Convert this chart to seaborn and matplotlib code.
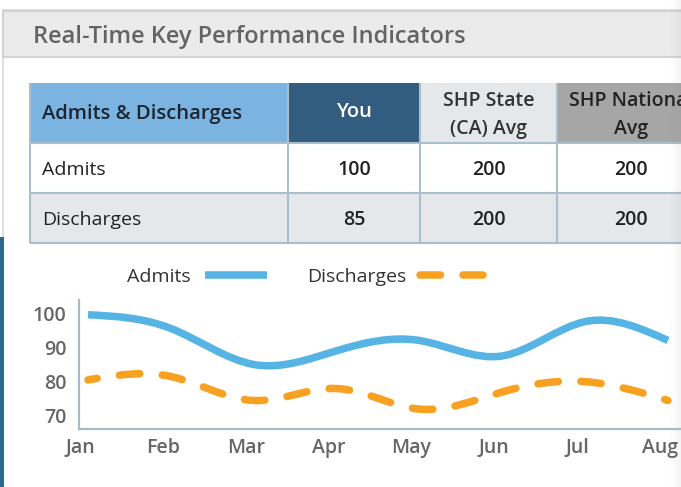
import numpy as np
import pandas as pd
import matplotlib
matplotlib.use("Agg")
import matplotlib.pyplot as plt
from matplotlib.patches import Rectangle, PathPatch
from matplotlib.path import Path
from matplotlib.lines import Line2D
from matplotlib.transforms import ScaledTranslation
import seaborn as sns

# ---- content -------------------------------------------------------------
title = "Real-Time Key Performance Indicators"
table_header = ["Admits & Discharges", "You", "SHP State\n(CA) Avg", "SHP National\nAvg"]
table_rows = ["Admits", "Discharges"]
you_values = [100, 85]
state_avg = [200, 200]
national_avg = [200, 200]

months = ["Jan", "Feb", "Mar", "Apr", "May", "Jun", "Jul", "Aug"]
admits = [99.5, 95.5, 85, 89, 92, 87.5, 97.5, 92]
discharges = [80.5, 81.5, 74.5, 78, 72, 77, 80, 74.5]
y_ticks = [70, 80, 90, 100]

# ---- style ---------------------------------------------------------------
sns.set_theme(style="white")
plt.rcParams["font.family"] = ["Open Sans", "DejaVu Sans"]

BLUE = "#55b4e4"
ORANGE = "#f8a020"
AXIS = "#a6bdc9"
GRID = "#a9bfcc"
TICK_TXT = "#666666"
DARK = "#222222"

W, H = 681, 487
fig = plt.figure(figsize=(W / 100, H / 100), dpi=100)
fig.patch.set_facecolor("white")

# background canvas in pixel units (card, title bar, table)
bg = fig.add_axes([0, 0, 1, 1])
bg.set_xlim(0, W)
bg.set_ylim(H, 0)
bg.axis("off")

# card frame and side strip
bg.add_patch(Rectangle((3, 10), W, H, facecolor="white", edgecolor="#d9d9d9", lw=1.2, zorder=1))
bg.add_patch(Rectangle((0, 237), 3.5, H - 237, facecolor="#2b6a8f", edgecolor="none", zorder=2))

# title bar
bg.add_patch(Rectangle((3, 10.5), W, 46, facecolor="#ebebeb", edgecolor="#d2d2d2", lw=1.5, zorder=2))
bg.text(33, 37, title, fontsize=17, fontweight="semibold", color="#646464",
        va="center", ha="left", zorder=3)

# ---- table ---------------------------------------------------------------
col_edges = [30, 288, 420, 557, 705]
row_edges = [83, 143, 193, 243]
header_fill = ["#7cb4e1", "#325c80", "#e4e8ea", "#a6a6a6"]
header_text = ["#1c2630", "white", "#333333", "#222222"]
row_fill = ["white", "#e5e8ea"]

for j in range(4):
    x0, x1 = col_edges[j], col_edges[j + 1]
    bg.add_patch(Rectangle((x0, row_edges[0]), x1 - x0, row_edges[1] - row_edges[0],
                           facecolor=header_fill[j], edgecolor="none", zorder=2))
    cx = 42 if j == 0 else (x0 + x1) / 2
    ha = "left" if j == 0 else "center"
    lines = table_header[j].split("\n")
    if len(lines) == 1:
        bg.text(cx, 114 if j == 0 else 112, lines[0], fontsize=14.5, fontweight="semibold",
                color=header_text[j], ha=ha, va="center", zorder=3)
    else:
        for k, ln in enumerate(lines):
            bg.text(cx, 101 + 28 * k, ln, fontsize=14, fontweight="semibold",
                    color=header_text[j], ha=ha, va="center", zorder=3)

cell_values = list(zip(you_values, state_avg, national_avg))
for i, name in enumerate(table_rows):
    y0, y1 = row_edges[i + 1], row_edges[i + 2]
    bg.add_patch(Rectangle((col_edges[0], y0), col_edges[-1] - col_edges[0], y1 - y0,
                           facecolor=row_fill[i], edgecolor="none", zorder=2))
    yc = (y0 + y1) / 2 + 2
    bg.text(42, yc, name, fontsize=14, color=DARK, ha="left", va="center", zorder=3)
    for j, v in enumerate(cell_values[i]):
        cx = (col_edges[j + 1] + col_edges[j + 2]) / 2
        bg.text(cx, yc, f"{v}", fontsize=14, fontweight="semibold", color=DARK,
                ha="center", va="center", zorder=3)

# table rules
for x in col_edges[:-1]:
    bg.plot([x, x], [row_edges[0], row_edges[-1]], color=GRID, lw=1.5, zorder=4,
            solid_capstyle="butt")
for y in row_edges[1:]:
    bg.plot([col_edges[0], W], [y, y], color=GRID, lw=1.5, zorder=4, solid_capstyle="butt")

# right-edge shadow
shade = np.linspace(0, 1, 64)[None, :] ** 1.5
rgba = np.zeros((1, 64, 4))
rgba[..., :3] = 0.55
rgba[..., 3] = 0.10 * shade
bg.imshow(rgba, extent=(668, W, H, 0), aspect="auto", zorder=10, interpolation="bilinear")
bg.set_xlim(0, W)
bg.set_ylim(H, 0)

# ---- line chart ------------------------------------------------------------
def natural_controls(v):
    """Bezier control points of a natural cubic spline through v."""
    v = np.asarray(v, float)
    n = len(v) - 1
    a = np.zeros(n); b = np.zeros(n); r = np.zeros(n)
    a[0], b[0], r[0] = 0, 2, v[0] + 2 * v[1]
    for i in range(1, n - 1):
        a[i], b[i], r[i] = 1, 4, 4 * v[i] + 2 * v[i + 1]
    a[n - 1], b[n - 1], r[n - 1] = 2, 7, 8 * v[n - 1] + v[n]
    for i in range(1, n):
        m = a[i] / b[i - 1]
        b[i] -= m
        r[i] -= m * r[i - 1]
    a[n - 1] = r[n - 1] / b[n - 1]
    for i in range(n - 2, -1, -1):
        a[i] = (r[i] - a[i + 1]) / b[i]
    b[n - 1] = (v[n] + a[n - 1]) / 2
    for i in range(n - 1):
        b[i] = 2 * v[i + 1] - a[i + 1]
    return a, b


def smooth_path(xs, ys):
    ax_, bx_ = natural_controls(xs)
    ay_, by_ = natural_controls(ys)
    verts = [(xs[0], ys[0])]
    codes = [Path.MOVETO]
    for i in range(len(xs) - 1):
        verts += [(ax_[i], ay_[i]), (bx_[i], by_[i]), (xs[i + 1], ys[i + 1])]
        codes += [Path.CURVE4] * 3
    return Path(verts, codes)


df = pd.DataFrame({"month": months, "Admits": admits, "Discharges": discharges})
df["pos"] = np.arange(len(df))

ax = fig.add_axes([79 / W, 1 - 429 / H, 1 - 79 / W, (429 - 300) / H])
ax.set_facecolor("none")
ax.set_xlim(-0.109, 7.157)
ax.set_ylim(66.2, 103.8)

LW = 5.4  # points
dash = (2.73, 3.0)

admits_patch = PathPatch(smooth_path(df["pos"].values, df["Admits"].values),
                         facecolor="none", edgecolor=BLUE, lw=LW, capstyle="butt",
                         joinstyle="round", zorder=3)
ax.add_patch(admits_patch)
dis_patch = PathPatch(smooth_path(df["pos"].values, df["Discharges"].values),
                      facecolor="none", edgecolor=ORANGE, lw=LW,
                      linestyle=(1.5, dash), capstyle="round", joinstyle="round", zorder=3)
ax.add_patch(dis_patch)

ax.set_xticks(df["pos"].values)
ax.set_xticklabels(months)
ax.set_yticks(y_ticks)
ax.set_yticklabels([str(t) for t in y_ticks])
ax.tick_params(axis="both", length=0, labelsize=14, labelcolor=TICK_TXT)
ax.tick_params(axis="x", pad=6.5)
ax.tick_params(axis="y", pad=9)
for lab in ax.get_xticklabels() + ax.get_yticklabels():
    lab.set_fontweight("semibold")
for lab in ax.get_xticklabels():
    lab.set_transform(lab.get_transform() + ScaledTranslation(-8 / 100, 0, fig.dpi_scale_trans))

sns.despine(ax=ax, top=True, right=True)
for side in ("left", "bottom"):
    ax.spines[side].set_color(AXIS)
    ax.spines[side].set_linewidth(1.6)
ax.grid(False)

handles = [
    Line2D([], [], color=BLUE, lw=LW, solid_capstyle="butt"),
    Line2D([], [], color=ORANGE, lw=LW, linestyle=(0, dash), dash_capstyle="round"),
]
fig.legend(handles, ["Admits", "Discharges"], ncol=2, markerfirst=False, frameon=False,
           loc="center", bbox_to_anchor=(305 / W, 1 - 277 / H), fontsize=14,
           handlelength=3.2, handletextpad=0.72, columnspacing=2.05, labelcolor="#333333")

fig.savefig("out.png", dpi=100, facecolor="white")
